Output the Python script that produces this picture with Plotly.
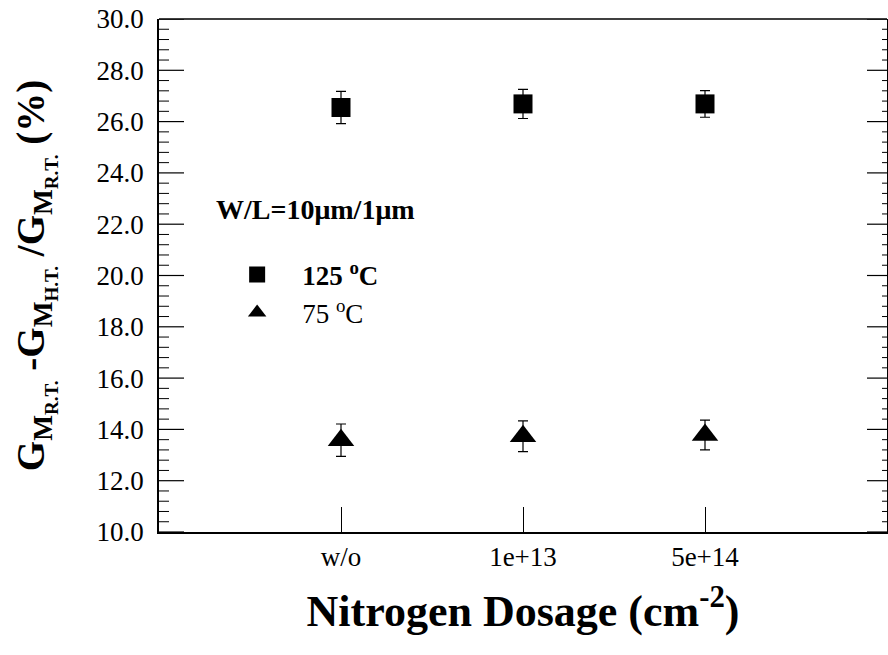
import plotly.graph_objects as go

categories = ["w/o", "1e+13", "5e+14"]
x_pos = [1, 2, 3]
g125 = [26.55, 26.69, 26.69]
g125_err = [0.63, 0.57, 0.52]
g75 = [13.58, 13.73, 13.78]
g75_err = [0.63, 0.60, 0.58]
x_range = [0, 4]
y_range = [10.0, 30.0]
y_major_ticks = [10.0, 12.0, 14.0, 16.0, 18.0, 20.0, 22.0, 24.0, 26.0, 28.0, 30.0]
y_minor_ticks = [round(m + k * 0.4, 1) for m in y_major_ticks[:-1] for k in range(1, 5)]

FONT = "Liberation Serif"

fig = go.Figure()
fig.add_trace(go.Scatter(
    x=x_pos, y=g125, mode="markers", showlegend=False,
    marker=dict(symbol="square", size=19, color="black"),
    error_y=dict(type="data", array=g125_err, color="black", thickness=1.2, width=5),
))
fig.add_trace(go.Scatter(
    x=x_pos, y=g75, mode="markers", showlegend=False,
    marker=dict(symbol="triangle-up", size=23, color="black"),
    error_y=dict(type="data", array=g75_err, color="black", thickness=1.2, width=5),
))
fig.add_trace(go.Scatter(x=[None], y=[None], mode="markers", name="<b>125 <sup>o</sup>C</b>",
                         marker=dict(symbol="square", size=16, color="black")))
fig.add_trace(go.Scatter(x=[None], y=[None], mode="markers", name="75 <sup>o</sup>C",
                         marker=dict(symbol="triangle-up", size=16, color="black")))
# carrier for the tick-only bottom overlay axis
fig.add_trace(go.Scatter(x=[None], y=[None], xaxis="x2", yaxis="y", showlegend=False, hoverinfo="skip"))

# y-axis tick marks pointing into the plot (left long, right shorter), placed in data units on y
tick_shapes = []
for vals, left_len, right_len, w in [(y_major_ticks, 25, 20, 1.2), (y_minor_ticks, 10, 5, 1.0)]:
    for v in vals:
        tick_shapes.append(dict(type="line", xref="paper", yref="y", xsizemode="pixel",
                                xanchor=0, x0=0, x1=left_len, y0=v, y1=v,
                                line=dict(color="black", width=w)))
        tick_shapes.append(dict(type="line", xref="paper", yref="y", xsizemode="pixel",
                                xanchor=1, x0=-right_len, x1=0, y0=v, y1=v,
                                line=dict(color="black", width=w)))

fig.update_layout(
    template="none",
    width=888, height=655,
    margin=dict(l=159, r=1, t=19, b=123),
    paper_bgcolor="white", plot_bgcolor="white",
    font=dict(family=FONT, color="black", size=27),
    xaxis=dict(
        range=x_range, tickmode="array", tickvals=x_pos, ticktext=categories,
        ticks="", showline=True, linecolor="black", linewidth=1.5,
        showgrid=False, zeroline=False,
        tickfont=dict(size=27, family=FONT),
        title=dict(text="<b>Nitrogen Dosage (cm<sup>-2</sup>)</b>",
                   font=dict(size=44, family=FONT), standoff=24),
    ),
    yaxis=dict(
        range=y_range, tickmode="array", tickvals=y_major_ticks,
        ticktext=[f"{v:.1f}" for v in y_major_ticks],
        ticks="outside", ticklen=8, tickcolor="rgba(0,0,0,0)",
        showline=True, linecolor="black", linewidth=1.5, mirror=True,
        showgrid=False, zeroline=False,
        tickfont=dict(size=27, family=FONT),
        title=dict(text="<b>G<sub>M<sub>R.T.</sub></sub> -G<sub>M<sub>H.T.</sub></sub> /G<sub>M<sub>R.T.</sub></sub> (%)</b>",
                   font=dict(size=39, family=FONT), standoff=40),
    ),
    # bottom axis ticks pointing up into the plot
    xaxis2=dict(overlaying="x", side="top", anchor="free", position=0, range=x_range,
                tickmode="array", tickvals=x_pos, ticks="outside", ticklen=25,
                tickwidth=1.2, tickcolor="black", showgrid=False, zeroline=False,
                showticklabels=False, showline=False),
    legend=dict(x=0.073, y=0.549, xanchor="left", yanchor="top",
                bgcolor="rgba(0,0,0,0)", font=dict(size=27, family=FONT),
                itemsizing="trace", itemwidth=80, tracegroupgap=0),
    shapes=[dict(type="line", xref="paper", yref="paper", x0=0, x1=1, y0=1, y1=1,
                 line=dict(color="black", width=1.5))] + tick_shapes,
    annotations=[dict(text="<b>W/L=10μm/1μm</b>", xref="paper", yref="paper",
                      x=0.076, y=0.628, xanchor="left", yanchor="middle",
                      showarrow=False, font=dict(size=28, family=FONT))],
)

fig.write_html("out.html")
